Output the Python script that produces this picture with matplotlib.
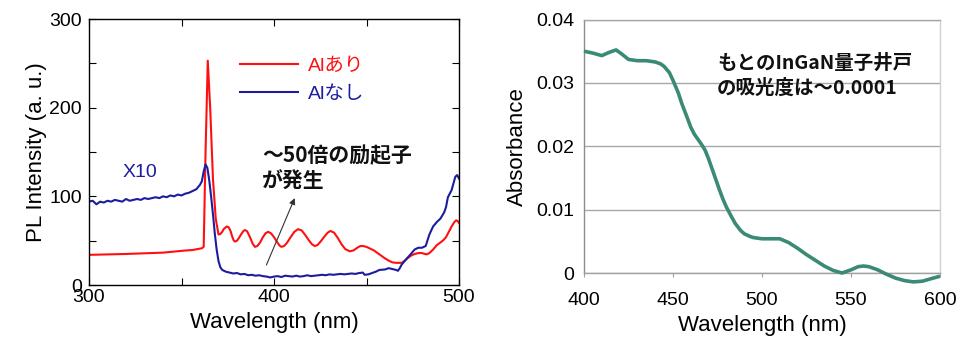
import matplotlib
matplotlib.use("Agg")
import matplotlib.pyplot as plt
import numpy as np

# ---------------- data ----------------
# Left panel: PL spectra
wl_al = [300, 320, 340, 351, 356, 361, 362, 363, 364.2, 365.5, 367, 368.5, 370,
         371, 372, 373, 374.5, 375.5, 376.5, 377.5, 378.3, 379,
         380, 381, 382.5, 383.5, 384.3, 385.5, 387, 388.5, 389.7,
         391, 392.5, 394, 395.5, 396.9, 398.5, 400, 401.5, 403, 404,
         405.5, 407, 409, 411, 413, 415, 417, 419, 420.5, 422,
         423.5, 425, 427, 429, 430.5, 432.5, 434.5, 436.5, 438.5, 441,
         443, 445, 446.5, 448, 450, 452, 454, 456, 458, 460, 462, 464, 466, 469,
         470.5, 472, 474, 476, 478, 480, 482.5, 484, 486, 488, 490, 491.6, 493,
         494.5, 496, 497.5, 498.5, 499.3, 500]
pl_al = [34, 35, 36.5, 38.7, 39.5, 41.4, 43, 150, 253, 200, 120, 75, 57,
         57.5, 60, 63.5, 66, 65, 61, 54, 50, 49,
         50, 53, 58, 61, 62, 60.5, 54, 46.5, 43,
         44, 48, 54, 58.5, 60, 58, 54, 49, 44.5, 43,
         44, 47.5, 54, 60, 63, 61.5, 56, 50, 46, 44,
         45, 48.5, 54, 59, 61, 59, 53, 46, 40.5, 38,
         39, 42, 43.8, 44, 43, 41, 39, 36, 33, 30, 27.5, 25.5, 25, 25,
         27, 30, 33, 35, 36, 36, 34.5, 36, 40, 45, 48, 50.7, 54,
         60, 66, 71, 73, 72, 70]

wl_noal = [300, 302, 304, 306, 308, 310, 312, 314, 316, 318, 320, 322, 324, 326, 328, 330,
           332, 334, 336, 338, 340, 342, 344, 346, 348, 350, 352, 354, 356, 358, 360,
           361, 362, 363, 364, 365, 366, 367, 368, 369, 370, 371, 372, 374, 376, 378,
           380, 382, 384, 386, 388, 390, 392, 394, 396, 398, 400, 402, 404, 406, 408,
           410, 412, 414, 416, 418, 420, 422, 424, 426, 428, 430, 432, 434, 436, 438,
           440, 442, 444, 446, 448, 449, 451, 453, 455, 457, 460, 462, 464, 466, 467,
           468, 469, 471, 474, 476, 478, 480, 482, 484, 486, 488, 490, 492, 493, 494,
           496, 498, 499, 500]
pl_noal = [94, 95, 91, 94, 93, 95, 94, 96, 95, 94, 97, 95, 96, 97, 96, 98,
           97, 98, 99, 98, 100, 99, 101, 100, 102, 101, 103, 104, 106, 108, 113,
           117, 128, 136, 132, 118, 100, 80, 58, 40, 27, 20, 17, 15, 14, 13,
           13.5, 12, 12.5, 11, 11.5, 10.5, 11, 10, 9.5, 8.5, 9.5, 10, 9, 10.5, 10,
           9.5, 10.5, 9.5, 10, 11, 10, 10.5, 11, 11.5, 11, 12, 11.5, 12, 12.5, 12,
           12.5, 13, 12.5, 13.5, 14, 11.5, 12, 13.5, 15, 17, 17.5, 19, 18, 17, 16,
           19, 23, 28, 35, 40, 42, 42, 44, 57, 66, 71, 75, 82, 88, 99,
           107, 122, 124, 120]

pl_xticks = [300, 350, 400, 450, 500]
pl_xlabels = ["300", "", "400", "", "500"]
pl_yticks = [0, 50, 100, 150, 200, 250, 300]
pl_ylabels = ["0", "", "100", "", "200", "", "300"]

# Right panel: absorbance
wl_abs = [400, 405, 410, 414, 418, 421, 425, 430, 435, 440, 443, 445, 448, 450, 453, 455, 458,
          460, 462, 464, 466, 468, 470, 472, 474, 476, 478, 480, 483, 485, 488, 490, 493, 495,
          500, 505, 510, 515, 520, 525, 530, 535, 540, 545, 550, 554, 557, 560, 565,
          570, 575, 580, 585, 590, 595, 600]
absorb = [0.0350, 0.0347, 0.0343, 0.0348, 0.0352, 0.0346, 0.0337, 0.0335, 0.0335, 0.0333, 0.0330, 0.0326, 0.0316, 0.0304, 0.0284, 0.0267, 0.0245,
          0.0230, 0.0219, 0.0211, 0.0203, 0.0194, 0.0180, 0.0164, 0.0148, 0.0132, 0.0117, 0.0104, 0.0088, 0.0078, 0.0067, 0.0062, 0.0058, 0.0056,
          0.0054, 0.0054, 0.0054, 0.0048, 0.0039, 0.0029, 0.0020, 0.0011, 0.0004, 0.0000, 0.0005, 0.0010, 0.0011, 0.0010, 0.0005,
          -0.0002, -0.0008, -0.0012, -0.0014, -0.0013, -0.0009, -0.0005]
abs_xticks = [400, 450, 500, 550, 600]
abs_yticks = [0, 0.01, 0.02, 0.03, 0.04]
abs_ylabels = ["0", "0.01", "0.02", "0.03", "0.04"]

# ---------------- figure ----------------
W, H = 964, 345
fig = plt.figure(figsize=(W / 100, H / 100), dpi=100)
fig.patch.set_facecolor("white")

LAT = ["Liberation Sans", "Noto Sans CJK JP", "DejaVu Sans"]
JP = ["Noto Sans CJK JP", "DejaVu Sans"]

def fx(px):
    return px / W

def fy(py):
    return 1 - py / H

# ----- left panel -----
ax1 = fig.add_axes([fx(89), fy(285), fx(459) - fx(89), fy(19) - fy(285)])
ax1.plot(wl_al, pl_al, color="#ff1010", lw=1.5, label="Alあり")
ax1.plot(wl_noal, pl_noal, color="#1c1ca0", lw=1.5, label="Alなし")
ax1.set_xlim(300, 500)
ax1.set_ylim(0, 300)
ax1.set_xticks(pl_xticks)
ax1.set_xticklabels(pl_xlabels)
ax1.set_yticks(pl_yticks)
ax1.set_yticklabels(pl_ylabels)
ax1.tick_params(direction="in", top=True, right=True, length=5, width=0.8,
                labelsize=14)
ax1.tick_params(axis="x", pad=3)
ax1.tick_params(axis="y", pad=5)
for lab in ax1.get_xticklabels() + ax1.get_yticklabels():
    lab.set_family(LAT)
for s in ax1.spines.values():
    s.set_linewidth(1.0)
ax1.set_xlabel("Wavelength (nm)", family=LAT, fontsize=16, labelpad=4)
ax1.set_ylabel("PL Intensity (a. u.)", family=LAT, fontsize=16, labelpad=2)

leg = ax1.legend(loc="upper left", bbox_to_anchor=((240 - 89) / 370, (285 - 57) / 266),
                 frameon=False, borderpad=0, borderaxespad=0, handlelength=3.0,
                 handletextpad=0.5, labelspacing=0.55, prop={"family": LAT, "size": 14})
for t, c in zip(leg.get_texts(), ["#ff1010", "#1c1ca0"]):
    t.set_color(c)

fig.text(fx(123), fy(172), "X10", family=LAT, fontsize=14, color="#1c1ca0",
         ha="left", va="center")
fig.text(fx(262), fy(156), "〜50倍の励起子", family=JP, fontsize=15,
         fontweight="bold", color="#111111", ha="left", va="center")
fig.text(fx(262), fy(181), "が発生", family=JP, fontsize=15,
         fontweight="bold", color="#111111", ha="left", va="center")
ax1.annotate("", xy=(411.2, 98), xytext=(395.9, 22.6),
             arrowprops=dict(arrowstyle="-|>", color="#333333", lw=0.8,
                             mutation_scale=9, shrinkA=0, shrinkB=0))

# ----- right panel -----
ax2 = fig.add_axes([fx(584), fy(273), fx(940) - fx(584), fy(19.5) - fy(273)])
ax2.plot(wl_abs, absorb, color="#3b8a76", lw=2.6, clip_on=False, zorder=3,
         solid_capstyle="butt", solid_joinstyle="round")
ax2.set_xlim(400, 600)
ax2.set_ylim(0, 0.04)
ax2.set_xticks(abs_xticks)
ax2.set_yticks(abs_yticks)
ax2.set_yticklabels(abs_ylabels)
ax2.yaxis.grid(True, color="#a8a8a8", lw=1.0)
ax2.set_axisbelow(True)
ax2.tick_params(axis="x", direction="out", length=3, width=0.8, color="#a0a0a0",
                labelsize=14, pad=11)
ax2.tick_params(axis="y", length=0, labelsize=14, pad=7)
for lab in ax2.get_xticklabels() + ax2.get_yticklabels():
    lab.set_family(LAT)
ax2.spines["left"].set_color("#8c8c8c")
ax2.spines["bottom"].set_color("#a0a0a0")
ax2.spines["top"].set_color("#a8a8a8")
ax2.spines["right"].set_color("#d0d0d0")
for s in ax2.spines.values():
    s.set_linewidth(1.0)
ax2.set_xlabel("Wavelength (nm)", family=LAT, fontsize=16, labelpad=4)
ax2.set_ylabel("Absorbance", family=LAT, fontsize=16, labelpad=6)

fig.text(fx(717), fy(63), "もとのInGaN量子井戸", family=JP, fontsize=14,
         fontweight="bold", color="#111111", ha="left", va="center")
fig.text(fx(717), fy(88), "の吸光度は〜0.0001", family=JP, fontsize=14,
         fontweight="bold", color="#111111", ha="left", va="center")

fig.savefig("out.png", dpi=100, facecolor="white")
